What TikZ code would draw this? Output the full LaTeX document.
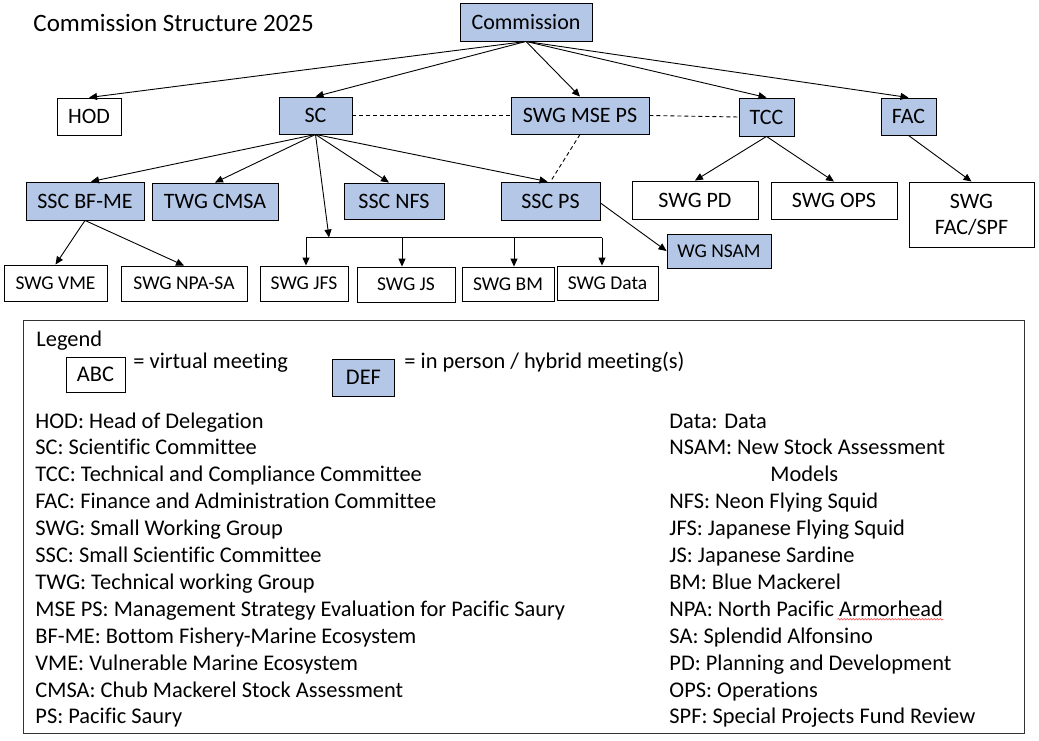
\documentclass[tikz,border=0pt]{standalone}
\usepackage{fontspec}
\setmainfont{Carlito}[Ligatures=NoCommon]
\usetikzlibrary{arrows.meta,decorations.pathmorphing}
\definecolor{boxblue}{HTML}{B4C7E7}

\begin{document}
\begin{tikzpicture}[x=1pt, y=-1pt, line width=0.9pt,
  virt/.style={draw, fill=white, inner sep=0, font=\fontsize{22}{26}\selectfont},
  live/.style={virt, fill=boxblue},
  small/.style={font=\fontsize{19.5}{22}\selectfont},
  arr/.style={-{Triangle[length=8pt,width=7pt]}},
  link/.style={dash pattern=on 4pt off 3pt},
  leg/.style={anchor=base west, inner sep=0, font=\fontsize{22.4}{24}\selectfont}]
\useasboundingbox (0,0) rectangle (1039,741);

% title
\node[anchor=base west, inner sep=0, font=\fontsize{25}{28}\selectfont] (title) at (33,32) {Commission Structure 2025};

% top levels
\node[live, minimum width=132, minimum height=38] (comm) at (526,22) {Commission};
\node[virt, minimum width=64, minimum height=37] (hod) at (89,116.5) {HOD};
\node[live, minimum width=73, minimum height=37] (sc) at (315.5,115.5) {SC};
\node[live, minimum width=138, minimum height=37] (mse) at (580,115.5) {SWG MSE PS};
\node[live, minimum width=55, minimum height=38] (tcc) at (766.5,117) {TCC};
\node[live, minimum width=55, minimum height=37] (fac) at (908.5,116.5) {FAC};

% second row
\node[live, minimum width=118, minimum height=38] (bfme) at (85,201) {SSC BF-ME};
\node[live, minimum width=126, minimum height=37] (cmsa) at (215,201.5) {TWG CMSA};
\node[live, minimum width=100, minimum height=36] (nfs) at (394,201) {SSC NFS};
\node[live, minimum width=99, minimum height=38] (ps) at (550.5,201) {SSC PS};
\node[virt, minimum width=126, minimum height=38] (pd) at (695,200) {SWG PD};
\node[virt, minimum width=126, minimum height=37] (ops) at (834,200.5) {SWG OPS};
\node[virt, minimum width=125, minimum height=65, align=center] (spf) at (971.5,214.5) {SWG\\FAC/SPF};
\node[live, small, minimum width=104, minimum height=34] (nsam) at (719,251) {WG NSAM};

% bottom row
\node[virt, small, minimum width=103, minimum height=36] (vme) at (55.5,283) {SWG VME};
\node[virt, small, minimum width=126, minimum height=35] (npa) at (184,283.5) {SWG NPA-SA};
\node[virt, small, minimum width=88, minimum height=35] (jfs) at (304,283.5) {SWG JFS};
\node[virt, small, minimum width=98, minimum height=35] (js) at (406,284.5) {SWG JS};
\node[virt, small, minimum width=92, minimum height=34] (bm) at (508,284) {SWG BM};
\node[virt, small, minimum width=101, minimum height=34] (data) at (607.5,283) {SWG Data};

% bus over the species groups
\coordinate (bus) at (329,237.5);
\coordinate (b1) at (306,237.5);
\coordinate (b2) at (402,237.5);
\coordinate (b3) at (514,237.5);
\coordinate (b4) at (602,237.5);
\draw (b1) -- (b4);

% connectors
\draw[arr] (comm.south) -- (hod.north);
\draw[arr] (comm.south) -- (sc.north);
\draw[arr] (comm.south) -- (mse.north);
\draw[arr] (comm.south) -- (tcc.north);
\draw[arr] (comm.south) -- (fac.north);
\draw[link] (sc.east) -- (mse.west);
\draw[link] (mse.east) -- (tcc.west);
\draw[link] (mse.south) -- (ps.north);
\draw[arr] (sc.south) -- ([xshift=6]bfme.north);
\draw[arr] (sc.south) -- (cmsa.north);
\draw[arr] (sc.south) -- (bus);
\draw[arr] (sc.south) -- ([xshift=-5]nfs.north);
\draw[arr] (sc.south) -- ([xshift=-3]ps.north);
\draw[arr] (b1) -- (b1 |- jfs.north);
\draw[arr] (b2) -- (b2 |- js.north);
\draw[arr] (b3) -- (b3 |- bm.north);
\draw[arr] (b4) -- (b4 |- data.north);
\draw[arr] (bfme.south) -- (vme.north);
\draw[arr] (bfme.south) -- (npa.north);
\draw[arr] ([yshift=-2]ps.east) -- (nsam.west);
\draw[arr] (tcc.south) -- (pd.north);
\draw[arr] (tcc.south) -- (ops.north);
\draw[arr] (fac.south) -- (spf.north);

% legend
\draw[black!80] (23,320) rectangle (1024,733);
\node[leg] (legend) at (36,346) {Legend};
\node[virt, minimum width=59, minimum height=35, font=\fontsize{22.4}{24}\selectfont] (abc) at (95.5,374.5) {ABC};
\node[leg] (abctext) at (133,368) {= virtual meeting};
\node[live, minimum width=62, minimum height=37, font=\fontsize{22.4}{24}\selectfont] (def) at (363.5,377.5) {DEF};
\node[leg] (deftext) at (404,368) {= in person / hybrid meeting(s)};

\node[leg] (lhod) at (35,428) {HOD: Head of Delegation};
\node[leg] (lsc) at (35,454.9) {SC: Scientific Committee};
\node[leg] (ltcc) at (35,481.8) {TCC: Technical and Compliance Committee};
\node[leg] (lfac) at (35,508.7) {FAC: Finance and Administration Committee};
\node[leg] (lswg) at (35,535.6) {SWG: Small Working Group};
\node[leg] (lssc) at (35,562.5) {SSC: Small Scientific Committee};
\node[leg] (ltwg) at (35,589.4) {TWG: Technical working Group};
\node[leg] (lmse) at (35,616.3) {MSE PS: Management Strategy Evaluation for Pacific Saury};
\node[leg] (lbfme) at (35,643.2) {BF-ME: Bottom Fishery-Marine Ecosystem};
\node[leg] (lvme) at (35,670.1) {VME: Vulnerable Marine Ecosystem};
\node[leg] (lcmsa) at (35,697) {CMSA: Chub Mackerel Stock Assessment};
\node[leg] (lps) at (35,723.9) {PS: Pacific Saury};

\node[leg] (ldata) at (669,428) {Data: Data};
\node[leg] (lnsam) at (669,454.9) {NSAM: New Stock Assessment};
\node[leg] (lmodels) at (770,481.8) {Models};
\node[leg] (lnfs) at (669,508.7) {NFS: Neon Flying Squid};
\node[leg] (ljfs) at (669,535.6) {JFS: Japanese Flying Squid};
\node[leg] (ljs) at (669,562.5) {JS: Japanese Sardine};
\node[leg] (lbm) at (669,589.4) {BM: Blue Mackerel};
\node[leg] (lnpa) at (669,616.3) {NPA: North Pacific Armorhead};
\node[leg] (lsa) at (669,643.2) {SA: Splendid Alfonsino};
\node[leg] (lpd) at (669,670.1) {PD: Planning and Development};
\node[leg] (lops) at (669,697) {OPS: Operations};
\node[leg] (lspf) at (669,723.9) {SPF: Special Projects Fund Review};
\draw[red!80, line width=0.5pt, decorate, decoration={snake, amplitude=0.8pt, segment length=3pt}]
  ([yshift=-3]lnpa.base east) ++(-106,0) -- ([yshift=-3]lnpa.base east);
\end{tikzpicture}
\end{document}
